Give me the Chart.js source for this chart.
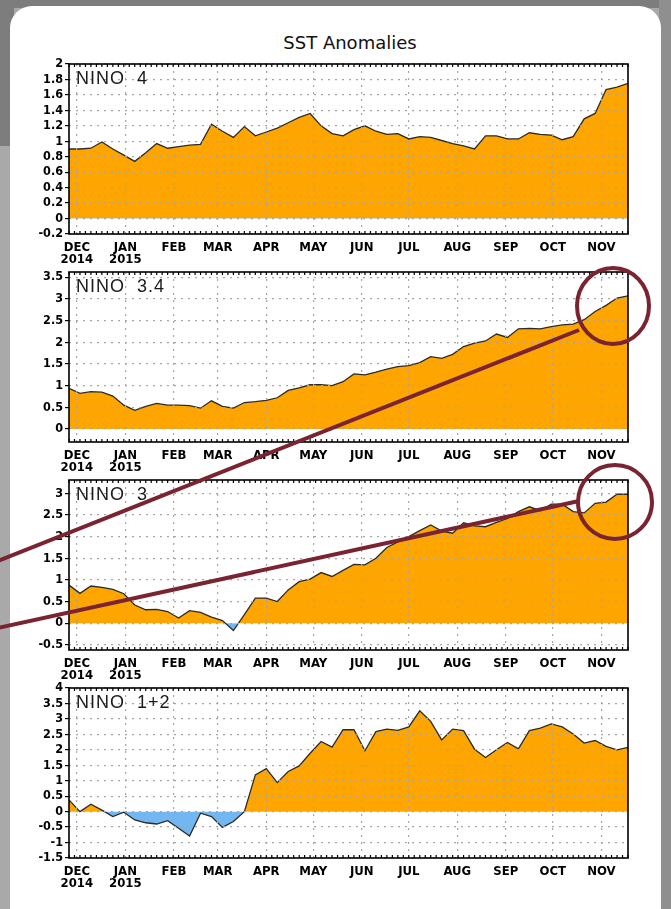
<!DOCTYPE html>
<html>
<head>
<meta charset="utf-8">
<title>SST Anomalies</title>
<script src="https://cdn.jsdelivr.net/npm/chart.js@4.4.1/dist/chart.umd.min.js"></script>
<style>
html, body { margin: 0; padding: 0; }
body { width: 671px; height: 909px; background: #a9a9a9; position: relative; overflow: hidden; }
#topband { position: absolute; left: 0; top: 0; width: 671px; height: 8px; background: #7d7d7d; }
#leftdark { position: absolute; left: 0; top: 0; width: 14px; height: 146px; background: #7d7d7d; }
#rightstrip { position: absolute; right: 0; top: 0; width: 12px; height: 909px; background: #8f8f8f; }
#card { position: absolute; left: 10px; top: 6px; width: 651px; height: 930px; background: #fff; border-radius: 22px 22px 0 0; }
#title { position: absolute; left: 0; width: 700px; top: 32px; text-align: center; font: 18px 'DejaVu Sans', sans-serif; color: #111; }
.panel { position: absolute; left: 10px; width: 630px; height: 216px; }
#marks { position: absolute; left: 0; top: 0; pointer-events: none; }
</style>
</head>
<body>
<div id="topband"></div>
<div id="leftdark"></div>
<div id="rightstrip"></div>
<div id="card"></div>
<div id="title">SST Anomalies</div>
<div class="panel" style="top:52px"><canvas id="c1"></canvas></div>
<div class="panel" style="top:260px"><canvas id="c2"></canvas></div>
<div class="panel" style="top:468px"><canvas id="c3"></canvas></div>
<div class="panel" style="top:676px"><canvas id="c4"></canvas></div>

<!-- hand drawn highlight marks on top of the figure -->
<svg id="marks" width="671" height="909">
  <g fill="none" stroke="#7a2331" stroke-width="4">
    <line x1="-2" y1="561" x2="579" y2="330"/>
    <line x1="-2" y1="628" x2="579" y2="501"/>
    <ellipse cx="613" cy="306" rx="36" ry="38"/>
    <ellipse cx="615" cy="502" rx="37" ry="37"/>
  </g>
</svg>

<script>
// weekly dates (week centres)
const weeks = ['2014-11-26','2014-12-03','2014-12-10','2014-12-17','2014-12-24','2014-12-31',
  '2015-01-07','2015-01-14','2015-01-21','2015-01-28','2015-02-04','2015-02-11','2015-02-18','2015-02-25',
  '2015-03-04','2015-03-11','2015-03-18','2015-03-25','2015-04-01','2015-04-08','2015-04-15','2015-04-22','2015-04-29',
  '2015-05-06','2015-05-13','2015-05-20','2015-05-27','2015-06-03','2015-06-10','2015-06-17','2015-06-24',
  '2015-07-01','2015-07-08','2015-07-15','2015-07-22','2015-07-29','2015-08-05','2015-08-12','2015-08-19','2015-08-26',
  '2015-09-02','2015-09-09','2015-09-16','2015-09-23','2015-09-30','2015-10-07','2015-10-14','2015-10-21','2015-10-28',
  '2015-11-04','2015-11-11','2015-11-18'];

// month ticks on the x axis
const monthDates = ['2014-12-01','2015-01-01','2015-02-01','2015-03-01','2015-04-01','2015-05-01',
  '2015-06-01','2015-07-01','2015-08-01','2015-09-01','2015-10-01','2015-11-01'];
const monthLabels = [['DEC','2014'],['JAN','2015'],'FEB','MAR','APR','MAY','JUN','JUL','AUG','SEP','OCT','NOV'];

// anomalies (deg C)
const nino4 = [0.90,0.90,0.91,0.99,0.90,0.82,0.74,0.85,0.97,0.91,0.93,0.95,0.96,1.22,1.13,1.05,1.19,1.07,1.12,1.17,
  1.24,1.31,1.36,1.20,1.10,1.07,1.15,1.20,1.13,1.09,1.10,1.03,1.06,1.05,1.01,0.97,0.94,0.90,1.07,1.07,
  1.03,1.03,1.11,1.09,1.08,1.02,1.06,1.29,1.36,1.67,1.70,1.75];
const nino34 = [0.94,0.82,0.86,0.85,0.76,0.55,0.43,0.52,0.59,0.55,0.55,0.54,0.48,0.65,0.52,0.48,0.61,0.63,0.66,0.72,
  0.89,0.95,1.02,1.02,1.00,1.09,1.27,1.25,1.31,1.38,1.44,1.46,1.53,1.67,1.63,1.72,1.90,1.98,2.03,2.19,
  2.11,2.31,2.32,2.31,2.36,2.40,2.42,2.52,2.71,2.85,3.02,3.07];
const nino3 = [0.88,0.69,0.86,0.83,0.78,0.68,0.42,0.31,0.32,0.27,0.12,0.29,0.25,0.14,0.06,-0.17,0.20,0.58,0.58,0.50,
  0.77,0.96,1.02,1.17,1.08,1.22,1.36,1.35,1.50,1.75,1.88,2.00,2.14,2.27,2.13,2.08,2.32,2.25,2.23,2.33,
  2.42,2.58,2.69,2.60,2.75,2.75,2.58,2.55,2.77,2.80,2.98,2.98];
const nino12 = [0.38,0.00,0.24,0.05,-0.16,-0.02,-0.27,-0.36,-0.40,-0.29,-0.54,-0.79,-0.05,-0.16,-0.51,-0.32,0.00,1.19,1.39,0.94,
  1.30,1.48,1.89,2.27,2.09,2.65,2.65,1.97,2.59,2.67,2.63,2.74,3.26,2.92,2.32,2.67,2.62,2.02,1.75,2.00,
  2.24,2.03,2.62,2.70,2.84,2.74,2.51,2.22,2.30,2.11,2.00,2.08];

// y tick labels and axis ranges
const nino4Ticks = [-0.2,0,0.2,0.4,0.6,0.8,1,1.2,1.4,1.6,1.8,2];
const nino34Ticks = [0,0.5,1,1.5,2,2.5,3,3.5];
const nino3Ticks = [-0.5,0,0.5,1,1.5,2,2.5,3];
const nino12Ticks = [-1.5,-1,-0.5,0,0.5,1,1.5,2,2.5,3,3.5,4];
const nino4Range = [-0.2, 2];
const nino34Range = [-0.3, 3.62];
const nino3Range = [-0.62, 3.31];
const nino12Range = [-1.5, 4];

const DAY = 86400000;
const t0 = Date.parse(weeks[0]);
const toDay = d => (Date.parse(d) - t0) / DAY;
const weekDays = weeks.map(toDay);
const monthDays = monthDates.map(toDay);
const lastDay = weekDays[weekDays.length - 1];

const tickFont = { family: "'Liberation Sans Narrow', 'DejaVu Sans Condensed', sans-serif", size: 13, weight: 'bold', lineHeight: 0.95 };

// frame, small ticks on top/bottom edges and the panel name
const framePlugin = {
    id: 'frame',
    afterDraw(chart, args, opts) {
        const { ctx, chartArea: a, scales } = chart;
        ctx.save();
        ctx.strokeStyle = '#000';
        ctx.lineWidth = 1.6;
        ctx.strokeRect(a.left, a.top, a.right - a.left, a.bottom - a.top);
        ctx.lineWidth = 1.2;
        ctx.beginPath();
        for (let d = 0; d <= lastDay; d += 3.5) {
            const x = scales.x.getPixelForValue(d);
            ctx.moveTo(x, a.top); ctx.lineTo(x, a.top + 3);
            ctx.moveTo(x, a.bottom); ctx.lineTo(x, a.bottom - 3);
        }
        ctx.stroke();
        ctx.fillStyle = '#1a1a1a';
        ctx.font = "18px 'Liberation Sans', 'Noto Sans', sans-serif";
        ctx.letterSpacing = '1px';
        ctx.textBaseline = 'middle';
        ctx.fillText(opts.label, a.left + 7, a.top + 15);
        ctx.restore();
    }
};

function makePanel(id, label, values, range, yTicks) {
    new Chart(document.getElementById(id), {
        type: 'line',
        data: {
            datasets: [{
                data: weekDays.map((d, i) => ({ x: d, y: values[i] })),
                borderColor: '#2b2b2b',
                borderWidth: 1.3,
                pointRadius: 0,
                tension: 0,
                fill: { target: { value: 0 }, above: '#ffa500', below: '#72b6f2' }
            }]
        },
        options: {
            responsive: true,
            maintainAspectRatio: false,
            animation: false,
            layout: { padding: { top: 12, right: 12, left: 0, bottom: 0 } },
            plugins: {
                legend: { display: false },
                tooltip: { enabled: false },
                frame: { label: label }
            },
            scales: {
                x: {
                    type: 'linear',
                    min: 0,
                    max: lastDay,
                    afterBuildTicks: s => { s.ticks = monthDays.map(v => ({ value: v })); },
                    afterFit: s => { s.height = 34; },
                    grid: { z: 1, color: '#a6a6a6', lineWidth: 1.2, drawTicks: false },
                    border: { display: false, dash: [2, 5] },
                    ticks: {
                        autoSkip: false,
                        maxRotation: 0,
                        padding: 7,
                        color: '#000',
                        font: tickFont,
                        callback: (v, i) => monthLabels[i]
                    }
                },
                y: {
                    min: range[0],
                    max: range[1],
                    afterBuildTicks: s => { s.ticks = yTicks.map(v => ({ value: v })); },
                    afterFit: s => { s.width = 59; },
                    grid: { z: 1, color: '#a6a6a6', lineWidth: 1.2, tickLength: 4, tickColor: '#000', tickWidth: 1.2 },
                    border: { display: false, dash: [2, 5] },
                    ticks: {
                        autoSkip: false,
                        padding: 2,
                        color: '#000',
                        font: { family: tickFont.family, size: 12.5, weight: 'bold', lineHeight: 1 },
                        callback: v => String(v)
                    }
                }
            }
        },
        plugins: [framePlugin]
    });
}

makePanel('c1', 'NINO  4', nino4, nino4Range, nino4Ticks);
makePanel('c2', 'NINO  3.4', nino34, nino34Range, nino34Ticks);
makePanel('c3', 'NINO  3', nino3, nino3Range, nino3Ticks);
makePanel('c4', 'NINO  1+2', nino12, nino12Range, nino12Ticks);
</script>
</body>
</html>
